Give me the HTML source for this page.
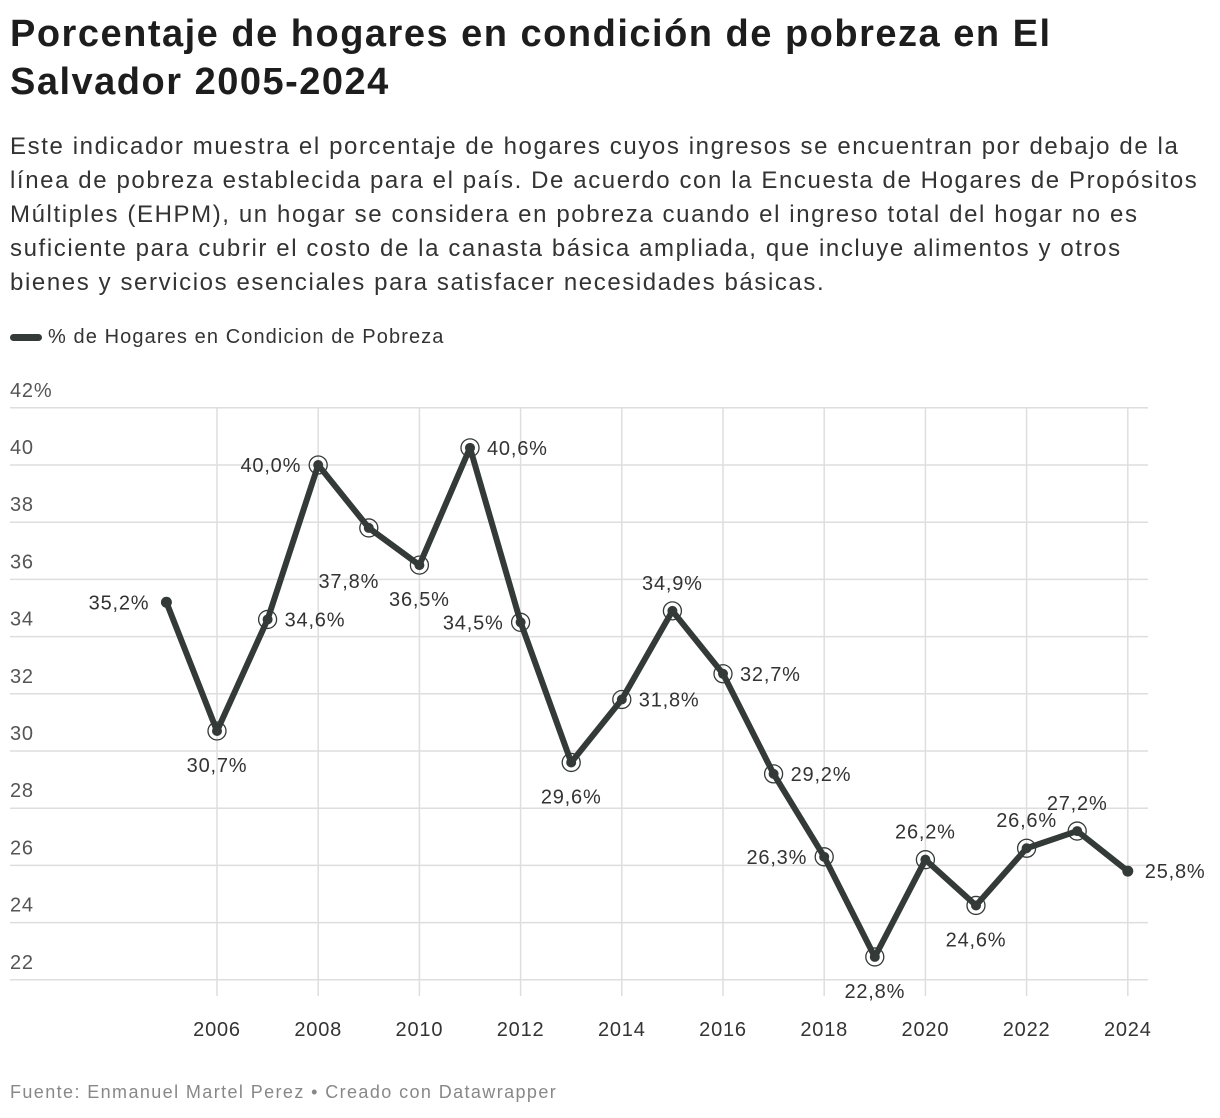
<!DOCTYPE html>
<html><head><meta charset="utf-8">
<style>
body{margin:0;background:#fff;width:1220px;height:1118px;overflow:hidden;font-family:"Liberation Sans",Arial,sans-serif;color:#1d1d1d}
h1{position:absolute;left:10px;top:10px;margin:0;font-size:38px;line-height:48px;font-weight:bold;white-space:nowrap;letter-spacing:1.5px}
.sub{position:absolute;left:10px;top:130px;margin:0;font-size:24px;line-height:34px;white-space:nowrap;color:#333;letter-spacing:1.6px}
.legend{position:absolute;left:10px;top:326px;font-size:20px;color:#333;display:flex;align-items:center;letter-spacing:1.1px}
.legend span.sw{display:inline-block;width:32px;height:7px;border-radius:4px;background:#333a37;margin-right:6px}
.foot{position:absolute;left:10px;top:1082px;font-size:18px;color:#888;letter-spacing:1.4px}
svg{position:absolute;left:0;top:0}
svg text{letter-spacing:0.8px}
</style></head><body>
<h1>Porcentaje de hogares en condición de pobreza en El<br>Salvador 2005-2024</h1>
<p class="sub">Este indicador muestra el porcentaje de hogares cuyos ingresos se encuentran por debajo de la<br>línea de pobreza establecida para el país. De acuerdo con la Encuesta de Hogares de Propósitos<br>Múltiples (EHPM), un hogar se considera en pobreza cuando el ingreso total del hogar no es<br>suficiente para cubrir el costo de la canasta básica ampliada, que incluye alimentos y otros<br>bienes y servicios esenciales para satisfacer necesidades básicas.</p>
<div class="legend"><span class="sw"></span>% de Hogares en Condicion de Pobreza</div>
<svg id="chart" width="1220" height="1118"></svg>
<div class="foot">Fuente: Enmanuel Martel Perez • Creado con Datawrapper</div>
<script>
const years=[2005,2006,2007,2008,2009,2010,2011,2012,2013,2014,2015,2016,2017,2018,2019,2020,2021,2022,2023,2024];
const values=[35.2,30.7,34.6,40.0,37.8,36.5,40.6,34.5,29.6,31.8,34.9,32.7,29.2,26.3,22.8,26.2,24.6,26.6,27.2,25.8];
const labelSide=['l','b','r','l','bl','b','r','l','b','r','t','r','r','l','b','t','b','t','t','r'];
const yTicks=[22,24,26,28,30,32,34,36,38,40,42];
const xTicks=[2006,2008,2010,2012,2014,2016,2018,2020,2022,2024];
const svg=document.getElementById('chart');
const NS='http://www.w3.org/2000/svg';
const x=v=>217+(v-2006)*50.6;
const y=v=>465+(40-v)*28.6;
function mk(t,a){const e=document.createElementNS(NS,t);for(const k in a)e.setAttribute(k,a[k]);svg.appendChild(e);return e;}
yTicks.forEach(t=>{
 const g=mk('line',{x1:10,x2:1148,y1:y(t),y2:y(t),stroke:'#dedede','stroke-width':1.5});
 
 
 const l=mk('text',{x:10,y:y(t)-11,'font-size':20,fill:'#555'});
 l.textContent=t===42?'42%':t;
 
 
});
xTicks.forEach(t=>{
 const g=mk('line',{x1:x(t),x2:x(t),y1:408,y2:996,stroke:'#dedede','stroke-width':1.5});
 
 
 const l=mk('text',{x:x(t),y:1036,'font-size':20,fill:'#333','text-anchor':'middle'});
 l.textContent=t;
 
 
});
const pts=years.map((yr,i)=>x(yr)+','+y(values[i])).join(' ');
const line=mk('polyline',{points:pts,fill:'none',stroke:'#333a37','stroke-width':6,'stroke-linejoin':'round','stroke-linecap':'round'});


years.forEach((yr,i)=>{
 const cx=x(yr),cy=y(values[i]);
 const last=i===0||i===years.length-1;
 if(!last){
  const r=mk('circle',{cx,cy,r:9,fill:'none',stroke:'#333a37','stroke-width':1.3});
  
  
 }
 const d=mk('circle',{cx,cy,r:last?5.5:5,fill:'#333a37'});
 
 
 let tx=cx,ty=cy+7,anc='middle';
 const s=labelSide[i];
 if(s==='l'){tx=cx-17;anc='end';}
 else if(s==='r'){tx=cx+17;anc='start';}
 else if(s==='t'){ty=cy-21;}
 else if(s==='b'){ty=cy+41;}
 else if(s==='bl'){tx=cx-20;ty=cy+60;}
 const l=mk('text',{x:tx,y:ty,'font-size':20,fill:'#333','text-anchor':anc});
 l.textContent=values[i].toFixed(1).replace('.',',')+'%';
 
 
});
</script>
</body></html>
